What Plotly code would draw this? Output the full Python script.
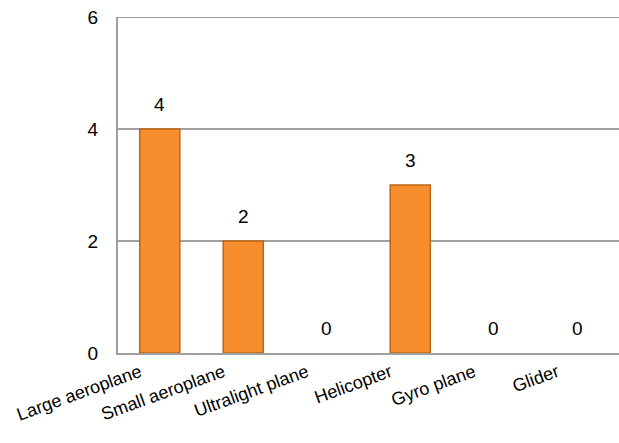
import plotly.graph_objects as go

categories = ["Large aeroplane", "Small aeroplane", "Ultralight plane", "Helicopter", "Gyro plane", "Glider"]
values = [4, 2, 0, 3, 0, 0]
y_ticks = [0, 2, 4, 6]

fig = go.Figure()
fig.add_trace(go.Bar(
    x=categories, y=values, width=0.48,
    marker=dict(color="#F88D2E",
                line=dict(color="#B9661C", width=[1.5 if v > 0 else 0 for v in values])),
    hoverinfo="skip",
))
for c, v in zip(categories, values):
    fig.add_annotation(x=c, y=v, text=str(v), showarrow=False,
                       yanchor="bottom", yshift=12,
                       font=dict(family="Liberation Sans, Arial", size=19, color="black"))
fig.add_hline(y=y_ticks[-1], line=dict(color="#A0A0A0", width=2), layer="below")
fig.update_layout(
    width=619, height=443,
    margin=dict(l=118, r=0, t=17, b=90),
    plot_bgcolor="white", paper_bgcolor="white",
    showlegend=False,
    font=dict(family="Liberation Sans, Arial", color="black"),
)
fig.update_xaxes(
    tickangle=-20, tickfont=dict(size=18), showgrid=False, automargin=False,
    showline=True, linecolor="#A0A0A0", linewidth=2, ticks="", ticklabelshift=-20,
)
fig.update_yaxes(
    range=[0, 6], tickvals=y_ticks, tickfont=dict(size=19), automargin=False,
    showgrid=True, gridcolor="#A0A0A0", gridwidth=2,
    showline=True, linecolor="#A0A0A0", linewidth=2,
    zeroline=False, ticks="", ticklabelstandoff=14, ticklabeloverflow="allow",
)
fig.write_html("out.html", config={"displayModeBar": False},
               post_script="document.body.style.margin='0';document.body.style.overflow='hidden';")
